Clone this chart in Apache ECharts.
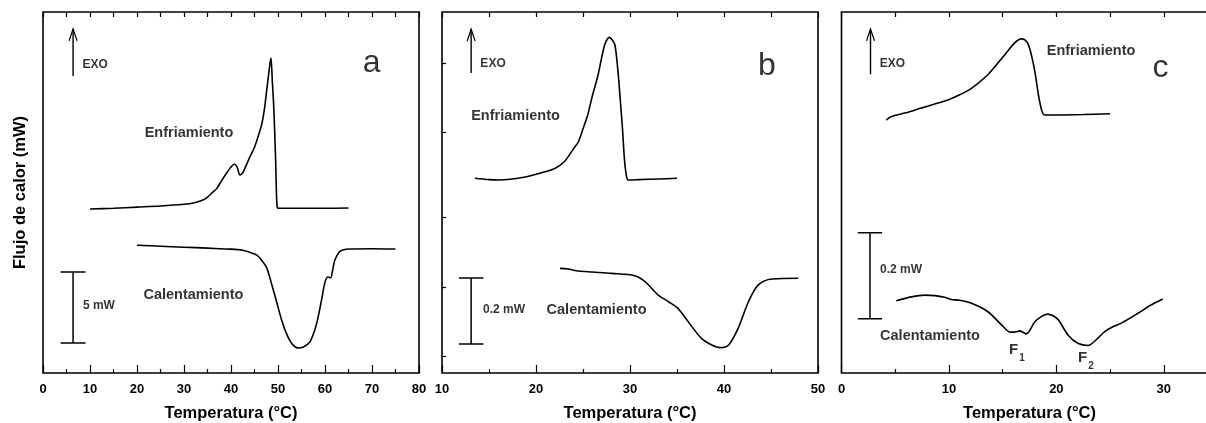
<!DOCTYPE html>
<html><head><meta charset="utf-8">
<script src="https://cdn.jsdelivr.net/npm/echarts@6/dist/echarts.min.js"></script>
<style>html,body{margin:0;padding:0;background:#fff}#c{width:1206px;height:423px}</style>
</head><body><div id="c"></div>
<script>
// ---------- DATA ----------
// Panel a (mW)
const aCoolT  = [10,15,20,25,30,32,34,35,36,37,38,39,40,40.7,41.3,41.9,42.5,43,44,45,46,46.6,47.2,47.6,48,48.3,48.5,48.8,49.1,49.5,49.8,50.2,55,60,65];
const aCoolHF = [11.55,11.6,11.68,11.76,11.88,11.97,12.18,12.39,12.7,13.0,13.55,14.05,14.5,14.72,14.5,13.94,14.1,14.45,15.2,15.9,16.9,17.6,18.8,19.93,21.0,21.8,22.18,20.5,18.7,15.0,11.7,11.6,11.6,11.6,11.62];
const aHeatT  = [20,25,30,35,40,42.5,44,45.5,46.5,47.6,48.7,49.8,50.8,51.9,53,54.3,55.5,56.8,57.8,58.5,59.3,60,60.6,61.2,61.6,62.1,63,63.8,65.3,70,75];
const aHeatHF = [9.0,8.93,8.86,8.79,8.72,8.64,8.5,8.3,7.95,7.4,6.2,4.9,3.7,2.7,2.05,1.76,1.85,2.2,3.0,3.87,5.2,6.4,6.76,6.69,7.2,7.96,8.5,8.66,8.73,8.75,8.73];
// Panel b (mW)
const bCoolT  = [13.5,15,16,17.5,19,20.5,22,23,24,24.5,25,25.5,26,26.6,27.3,27.8,28.1,28.4,28.7,28.9,29.2,29.4,29.6,29.8,31,33,35];
const bCoolHF = [0.590,0.586,0.585,0.588,0.595,0.606,0.620,0.640,0.68,0.70,0.74,0.782,0.84,0.903,0.994,1.017,1.01,0.994,0.92,0.852,0.74,0.651,0.6,0.585,0.586,0.588,0.590];
const bHeatT  = [22.55,23.4,24.5,26,28.05,30.5,31.6,33,34.1,35.1,36.2,37.6,38.7,39.6,40.5,41.5,42.6,43.65,45.1,47.9];
const bHeatHF = [0.317,0.315,0.309,0.306,0.302,0.295,0.277,0.236,0.216,0.196,0.155,0.105,0.085,0.077,0.085,0.135,0.216,0.267,0.285,0.287];
// Panel c (mW)
const cCoolT  = [4.17,4.6,6,7.4,8.6,9.9,11,12.1,13.6,14.4,15.2,16.1,16.7,17.1,17.4,17.7,18.0,18.45,18.9,20,22.5,25];
const cCoolHF = [0.588,0.596,0.605,0.616,0.625,0.635,0.647,0.662,0.693,0.716,0.740,0.767,0.777,0.774,0.763,0.737,0.701,0.631,0.600,0.600,0.601,0.603];
const cHeatT  = [5.1,6.5,7.75,8.7,9.6,10.2,11,12.1,13.6,14.9,15.7,16.1,16.6,17.2,18.0,18.6,19.2,19.7,20.2,21.1,22,22.95,23.7,24.5,25.3,26.05,27.6,28.8,29.9];
const cHeatHF = [0.168,0.177,0.181,0.180,0.176,0.171,0.169,0.162,0.143,0.112,0.095,0.095,0.098,0.091,0.119,0.131,0.137,0.133,0.123,0.088,0.069,0.064,0.077,0.096,0.108,0.116,0.139,0.158,0.172];
// Axis ranges and scale-bar sizes
const xRanges   = [[0,80],[10,50],[0,35]];
const yRanges   = [[0,25.42],[0,1.094],[0,0.8395]];
const scaleBars = [5, 0.2, 0.2];              // mW
const scaleText = ['5 mW','0.2 mW','0.2 mW'];
const panelTags = ['a','b','c'];
const bYTicks   = [0.052,0.261,0.473,0.730,0.939];

// ---------- LAYOUT ----------
const INK = '#000';
const FONT = '"Liberation Sans", Arial, sans-serif';
const gridsPx = [{left:43,top:12,width:376,height:361},{left:442,top:12,width:376,height:361},{left:841.5,top:12,width:376,height:361}];
const barPos = [
  {x:6.4, y0:2.11, cap:2.65, ax:6.4, ay:[20.92,24.23]},
  {x:13.1, y0:0.088, cap:1.3, ax:13.1, ay:[0.909,1.042]},
  {x:2.65, y0:0.126, cap:1.13, ax:2.7, ay:[0.695,0.80]}
];
const notes = [
  [ [11.1,21.69,'EXO',12,'bold'], [31.06,16.9,'Enfriamiento',14.5,'bold'], [32.0,5.49,'Calentamiento',14.5,'bold'], [11.9,4.72,scaleText[0],12,'bold'], [69.9,21.83,panelTags[0],32,'normal'] ],
  [ [15.43,0.936,'EXO',12,'bold'], [17.82,0.779,'Enfriamiento',14.5,'bold'], [26.44,0.191,'Calentamiento',14.5,'bold'], [16.6,0.191,scaleText[1],12,'bold'], [44.57,0.93,panelTags[1],32,'normal'] ],
  [ [4.75,0.719,'EXO',12,'bold'], [23.23,0.749,'Enfriamiento',14.5,'bold'], [8.24,0.086,'Calentamiento',14.5,'bold'], [5.54,0.240,scaleText[2],12,'bold'], [29.7,0.709,panelTags[2],32,'normal'],
    [16.01,0.0535,'F',15,'bold'], [16.81,0.0349,'1',10,'bold'], [22.44,0.0349,'F',15,'bold'], [23.23,0.0163,'2',10,'bold'] ]
];

const zip = (xs, ys) => xs.map((x, i) => [x, ys[i]]);
const series = [];
function curve(g, xs, ys) {
  series.push({type:'line', xAxisIndex:g, yAxisIndex:g, data:zip(xs, ys), showSymbol:false, symbol:'none',
    smooth:0.3, lineStyle:{color:INK, width:1.6}, silent:true});
}
function seg(g, pts, w) {
  series.push({type:'line', xAxisIndex:g, yAxisIndex:g, data:pts, showSymbol:false, symbol:'none',
    lineStyle:{color:INK, width:w || 1.5}, silent:true});
}
curve(0, aCoolT, aCoolHF); curve(0, aHeatT, aHeatHF);
curve(1, bCoolT, bCoolHF); curve(1, bHeatT, bHeatHF);
curve(2, cCoolT, cCoolHF); curve(2, cHeatT, cHeatHF);

barPos.forEach((b, g) => {
  const y1 = b.y0 + scaleBars[g];
  seg(g, [[b.x, b.y0],[b.x, y1]]);
  seg(g, [[b.x - b.cap, b.y0],[b.x + b.cap, b.y0]]);
  seg(g, [[b.x - b.cap, y1],[b.x + b.cap, y1]]);
  series.push({type:'line', xAxisIndex:g, yAxisIndex:g, symbol:'none', showSymbol:true, silent:true,
    lineStyle:{color:INK, width:1.4},
    data:[[b.ax, b.ay[0]], {value:[b.ax, b.ay[1]], symbol:'path://M0,12L4,0L8,12', symbolSize:[8,12], symbolOffset:[0,'50%'],
      itemStyle:{color:'none', borderColor:INK, borderWidth:1.4}}]});
  series.push({type:'scatter', xAxisIndex:g, yAxisIndex:g, symbolSize:0, silent:true,
    data: notes[g].map(n => ({value:[n[0], n[1]], label:{show:true, position:'inside', formatter:n[2],
      fontSize:n[3], fontWeight:n[4], fontFamily:FONT, color:INK}}))});
});

const grids = gridsPx.map(p => Object.assign({show:true, borderColor:INK, borderWidth:1.6, backgroundColor:'transparent',
  containLabel:false, outerBoundsMode:'none'}, p));
const xAxes = [];
[0,1,2].forEach(g => xAxes.push({type:'value', gridIndex:g, position:'bottom', min:xRanges[g][0], max:xRanges[g][1], interval:10,
  axisLine:{show:false}, splitLine:{show:false},
  axisTick:{show:true, inside:true, length:8, lineStyle:{color:INK, width:1.2}},
  minorTick:{show:true, splitNumber:2, length:4, lineStyle:{color:INK, width:1.2}},
  axisLabel:{fontSize:13, fontWeight:'bold', fontFamily:FONT, color:INK, margin:10},
  name:'Temperatura (°C)', nameLocation:'middle', nameGap:32,
  nameTextStyle:{fontSize:16.5, fontWeight:'bold', fontFamily:FONT, color:INK}}));
[0,1,2].forEach(g => xAxes.push({type:'value', gridIndex:g, position:'top', min:xRanges[g][0], max:xRanges[g][1], interval:10,
  axisLine:{show:false}, splitLine:{show:false}, axisLabel:{show:false},
  axisTick:{show:true, inside:true, length:5, lineStyle:{color:INK, width:1.2}},
  minorTick:{show:true, splitNumber:2, length:5, lineStyle:{color:INK, width:1.2}}}));
const yAxes = [0,1,2].map(g => ({type:'value', gridIndex:g, min:yRanges[g][0], max:yRanges[g][1],
  axisLine:{show:false}, splitLine:{show:false}, axisLabel:{show:false},
  axisTick: g === 1 ? {show:true, inside:true, length:4, customValues:bYTicks, lineStyle:{color:INK, width:1.2}} : {show:false}}));
yAxes[0].name = 'Flujo de calor (mW)';
yAxes[0].nameLocation = 'middle';
yAxes[0].nameGap = 14;
yAxes[0].nameTextStyle = {fontSize:16.5, fontWeight:'bold', fontFamily:FONT, color:INK};

const chart = echarts.init(document.getElementById('c'), null, {renderer:'canvas'});
chart.setOption({animation:false, backgroundColor:'#fff', grid:grids, xAxis:xAxes, yAxis:yAxes, series:series});
</script></body></html>
